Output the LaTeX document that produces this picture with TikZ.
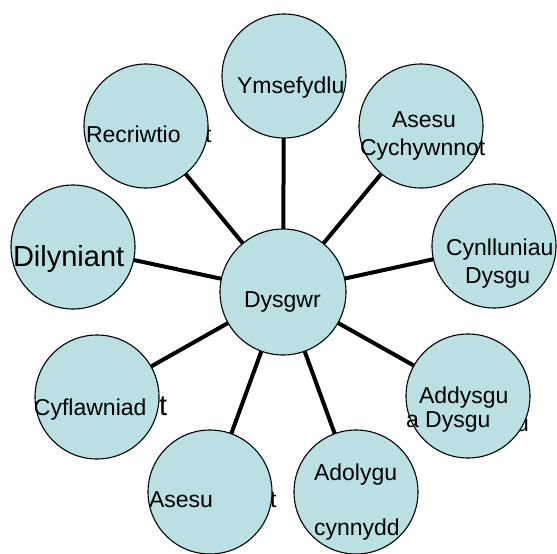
\documentclass[tikz,border=0pt]{standalone}
\usepackage{fontspec}
\setmainfont{Liberation Sans}
\usetikzlibrary{backgrounds}
\definecolor{stageBlue}{HTML}{BBE0E3}
% name/x/y of each outer circle
\newcommand{\stageMap}{%
    recriwtio/146/126,
    ymsefydlu/284/76,
    asesuCychwyn/421/126,
    cynlluniau/494/246,
    addysgu/468/396,
    adolygu/356/492,
    asesu/210/492,
    cyflawniad/97/397,
    dilyniant/73/247%
}
% x/baseline/text/size of every line of text
\newcommand{\stageTexts}{%
    86/142/Recriwtio/std,
    237/93/Ymsefydlu/std,
    392/127/Asesu/std,
    360/155/Cychywnnot/std,
    446/255/Cynlluniau/std,
    465/283/Dysgu/std,
    419/403/Addysgu/std,
    406/427/a Dysgu/std,
    314/480/Adolygu/std,
    314/535/cynnydd/std,
    149/507/Asesu/std,
    34/415/Cyflawniad/std,
    13/266/Dilyniant/big,
    244/307/Dysgwr/std%
}
% bits of text that stick out from behind the circles
\newcommand{\hiddenBits}{%
    205/142/t/std,
    270/507/t/std,
    159/415/t/big,
    516/431/u/std%
}

\begin{document}
\begin{tikzpicture}[
        x=1pt, y=-1pt,
        stage/.style={circle, draw, line width=1.1pt, fill=stageBlue, minimum size=124pt, inner sep=0},
        link/.style={line width=4pt},
        std/.style={font=\fontsize{23}{27}\selectfont},
        big/.style={font=\fontsize{29}{34}\selectfont},
        word/.style={anchor=base west, inner sep=0, outer sep=0},
    ]
    \useasboundingbox (0,0) rectangle (557,554);

    \foreach \x/\y/\label/\size [count=\n] in \hiddenBits {
        \node[word, \size] (bit \n) at (\x,\y) {\label};
    }

    \node[stage, minimum size=126pt] (dysgwr) at (283,292) {};
    \foreach \name/\x/\y in \stageMap {
        \node[stage] (\name) at (\x,\y) {};
        \begin{scope}[on background layer]
            \draw[link] (dysgwr.center) -- (\name.center);
        \end{scope}
    }

    \foreach \x/\y/\label/\size [count=\n] in \stageTexts {
        \node[word, \size] (txt \n) at (\x,\y) {\label};
    }
\end{tikzpicture}
\end{document}
